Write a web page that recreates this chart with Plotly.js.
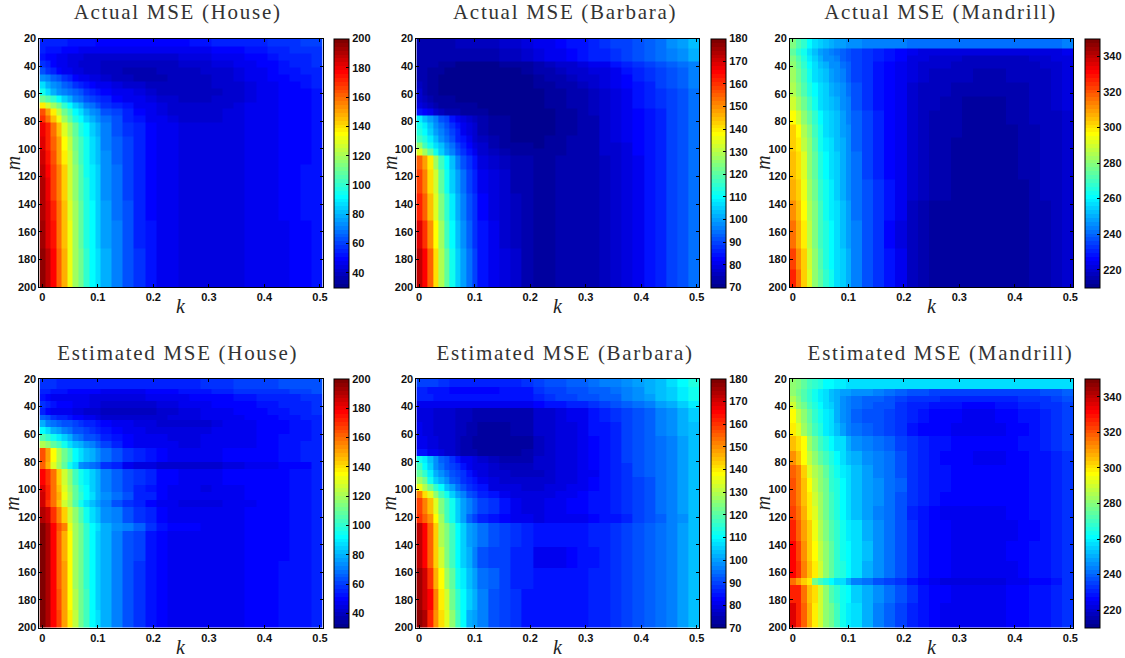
<!DOCTYPE html>
<html><head><meta charset="utf-8"><script src="https://cdn.plot.ly/plotly-3.0.1.min.js"></script>
<style>html,body{margin:0;padding:0;background:#fff}#c{width:1125px;height:658px}</style></head><body><div id="c"></div>
<script>
const kEdges=[-.005,.005,.015,.025,.035,.045,.055,.065,.075,.085,.095,.105,.125,.145,.165,.185,.205,.225,.245,.265,.285,.305,.325,.345,.365,.385,.405,.425,.445,.465,.485,.505];
const titles=["Actual MSE (House)","Actual MSE (Barbara)","Actual MSE (Mandrill)","Estimated MSE (House)","Estimated MSE (Barbara)","Estimated MSE (Mandrill)"];
const zRanges=[[30,200],[70,180],[210,350],[30,200],[70,180],[210,350]];
const cbTicks=[[40,60,80,100,120,140,160,180,200],[70,80,90,100,110,120,130,140,150,160,170,180],[220,240,260,280,300,320,340]];

const mActualHouse=[20,26,31,36,41,46,51,56,61,66,71,76,81,91,101,111,121,137,152,172,200];
const zActualHouse=[
[55,55,54,54,54,53,53,52,52,52,51,50,50,50,50,50,50,50,50,52,53,54,55,55,56,56,57,58,59,60,61],
[54,53,52,52,51,50,49,48,48,47,47,47,46,46,46,47,47,47,47,47,48,50,50,51,52,53,54,56,57,58,59],
[52,50,49,47,46,45,44,44,43,43,42,42,42,42,42,42,43,43,44,44,45,46,47,48,49,50,52,54,55,56,57],
[58,54,50,48,46,45,44,43,42,41,41,40,40,39,39,40,40,40,41,41,42,44,45,46,48,49,50,52,54,55,57],
[62,58,55,51,48,46,45,44,43,42,41,39,38,37,37,37,38,39,40,40,41,42,43,45,47,48,50,52,53,54,56],
[75,70,66,62,58,54,51,48,46,45,44,41,39,38,37,37,37,38,38,39,40,41,42,44,46,48,49,50,52,53,55],
[86,80,74,70,66,62,58,55,52,50,48,46,44,42,41,40,38,38,38,38,39,41,42,43,45,46,48,49,51,52,54],
[95,88,80,75,72,68,65,62,58,55,52,50,47,46,44,42,40,40,39,39,39,40,41,42,44,46,48,49,50,51,53],
[112,105,100,92,85,78,72,68,64,60,58,54,50,48,46,45,42,41,40,40,40,41,42,43,45,46,48,49,50,51,53],
[138,128,118,110,100,92,85,78,72,68,64,58,55,52,48,47,44,42,41,41,41,41,43,44,46,47,48,49,50,51,53],
[165,152,138,125,112,102,92,86,80,74,70,64,60,54,50,48,45,43,41,41,41,42,44,45,46,47,48,49,50,51,53],
[170,160,145,132,120,108,98,92,85,80,74,68,62,56,52,48,46,44,42,42,42,42,44,45,46,47,48,49,50,51,53],
[180,172,160,145,130,118,108,98,92,84,78,70,64,58,54,50,47,46,45,45,45,44,44,45,46,47,48,49,50,51,53],
[182,172,162,150,136,124,112,102,95,88,82,72,66,60,54,50,47,46,45,45,45,44,44,45,46,47,48,49,50,51,53],
[185,176,165,152,138,126,114,104,96,88,82,74,66,60,55,50,47,46,45,45,45,44,44,45,46,47,48,49,50,51,53],
[188,178,168,155,142,128,115,106,96,90,84,74,68,60,55,51,48,46,45,45,45,44,44,45,46,47,48,49,50,52,53],
[190,180,168,156,142,128,116,106,97,90,84,75,68,60,55,51,47,46,45,45,45,44,44,45,46,47,48,49,50,52,53],
[192,182,172,158,145,130,118,108,98,92,85,76,68,62,56,51,47,46,45,45,45,44,44,45,46,46,47,49,50,52,53],
[194,184,174,160,146,132,118,108,98,92,85,76,70,62,56,52,47,46,45,45,45,44,44,45,46,46,47,48,50,51,52],
[196,188,178,162,148,132,120,110,100,92,86,78,70,63,58,52,48,46,45,45,45,44,44,45,46,46,47,48,50,51,52]];

const mActualBarbara=[20,27,36.5,41,46,51,56,61,66,71,75.5,80.5,85,90,95,100,105,115,132,152,172,200];
const zActualBarbara=[
[75,75,75,75,75,75,75,76,76,76,76,76,76,77,77,79,81,82,83,84,85,87,88,89,90,92,93,95,98,100,103],
[75,75,75,75,75,75,75,75,75,75,75,75,75,76,76,77,80,81,82,83,84,86,87,88,89,91,93,95,97,99,102],
[74,74,74,74,73,72,72,71,71,71,71,71,71,72,72,73,75,76,77,78,79,81,82,84,86,88,90,92,93,95,97],
[74,74,73,72,72,71,71,71,71,71,71,71,71,71,71,72,74,75,76,77,78,79,80,82,84,87,88,90,92,94,97],
[75,74,73,72,71,71,71,71,71,71,71,71,71,71,71,71,73,74,75,76,77,78,79,81,83,86,88,90,92,94,96],
[76,74,73,72,71,71,71,71,71,71,71,71,71,71,71,71,72,73,74,75,76,77,79,81,83,85,87,89,91,93,96],
[77,75,73,72,71,71,71,71,71,71,71,71,71,71,71,71,71,72,73,74,75,76,78,80,82,84,86,88,90,92,95],
[78,76,74,73,72,72,72,71,71,71,71,71,71,71,71,71,71,72,73,74,75,76,78,80,82,84,86,88,90,92,95],
[80,78,76,74,73,73,73,72,72,72,72,71,71,71,71,71,71,72,73,74,75,76,78,79,81,84,86,88,90,92,95],
[85,83,81,78,76,75,74,74,73,73,72,72,71,71,71,71,71,71,72,73,74,76,78,79,81,83,85,87,90,92,95],
[108,103,100,96,92,90,85,82,80,78,76,74,73,72,71,71,71,71,72,73,74,75,77,79,81,83,85,87,90,92,95],
[112,108,103,98,95,92,88,84,81,79,77,74,73,72,71,71,71,71,72,73,74,75,77,79,81,83,85,87,90,92,95],
[113,110,105,100,97,93,90,86,82,80,78,75,73,72,71,71,71,71,72,73,74,75,77,79,81,83,85,87,89,91,95],
[118,113,108,103,98,95,91,87,84,81,78,76,74,72,71,71,71,72,73,74,74,75,77,79,81,83,85,87,89,91,95],
[125,118,112,107,103,98,95,90,86,83,80,77,75,73,72,72,71,72,73,74,74,75,77,78,80,83,85,87,89,91,95],
[135,128,120,112,106,100,97,92,88,85,82,78,76,74,73,73,72,72,73,74,74,75,77,78,80,83,85,87,89,91,95],
[155,148,140,128,118,110,103,97,92,88,85,80,78,76,75,74,73,73,74,74,74,75,76,78,80,82,84,86,89,91,95],
[158,152,142,132,120,112,106,100,95,90,87,82,79,77,75,74,73,73,74,74,74,75,76,78,80,82,84,86,89,91,95],
[162,155,145,135,124,115,108,102,97,92,88,83,80,78,76,74,73,73,74,74,74,75,76,78,80,82,84,86,89,91,95],
[168,160,150,138,128,118,110,104,98,93,88,84,81,78,76,74,73,73,74,74,74,75,76,78,80,82,84,86,89,91,95],
[173,166,155,142,130,120,112,105,100,95,90,85,81,79,77,75,73,73,74,74,74,75,76,78,80,82,84,86,89,91,95]];

const mActualMandrill=[20,27,32,37,42,52,62,72,82,92,102,122,137,152,172,187,200];
const zActualMandrill=[
[278,272,268,262,258,255,253,251,249,248,247,245,244,243,243,243,242,242,241,241,241,241,241,241,241,241,241,241,242,242,243],
[275,268,264,258,252,248,245,243,242,240,238,235,233,231,229,227,224,223,222,222,222,221,221,221,221,221,221,222,222,223,224],
[278,272,266,260,254,250,247,245,243,240,238,236,233,230,228,226,222,221,220,220,219,218,218,218,218,218,218,219,220,221,223],
[281,274,268,262,256,252,250,247,245,242,240,236,232,229,227,225,221,220,219,219,218,218,217,217,217,217,217,218,219,220,222],
[283,276,270,264,258,254,252,249,246,244,240,236,233,229,227,225,221,219,218,218,217,217,216,216,216,217,217,217,218,219,221],
[285,278,272,266,261,256,254,251,248,245,242,237,233,229,226,224,220,218,217,217,216,215,215,215,215,216,216,217,218,219,221],
[290,284,276,270,264,258,255,252,250,247,243,238,234,229,226,224,220,218,217,216,215,214,214,214,214,215,216,217,218,219,221],
[296,290,280,274,268,261,257,254,252,248,244,240,235,230,226,224,220,218,216,216,215,214,214,214,214,215,216,217,217,218,220],
[302,297,286,278,270,264,258,255,252,248,245,240,236,231,227,224,220,218,216,216,215,214,214,214,214,214,215,216,217,218,220],
[304,298,288,280,272,264,260,256,252,250,246,240,236,230,227,224,219,217,216,215,214,213,213,213,213,214,215,216,217,218,220],
[306,300,292,282,274,266,261,258,254,250,246,241,236,231,227,224,219,217,215,215,214,213,213,213,213,214,215,216,217,218,220],
[308,302,294,284,276,268,263,259,255,251,247,241,237,232,228,224,219,217,215,215,214,213,213,213,213,213,214,216,217,218,220],
[312,306,296,286,278,270,264,260,256,252,248,242,238,232,228,224,218,216,214,214,213,213,213,213,213,213,214,215,216,217,219],
[316,308,298,288,278,270,265,261,257,253,249,243,238,232,227,223,218,216,214,214,213,213,213,213,213,213,214,215,216,217,219],
[322,312,302,290,280,272,266,262,258,254,250,243,238,232,228,224,218,216,214,214,213,213,213,213,213,213,214,215,216,217,219],
[326,315,304,292,282,274,268,263,258,254,250,244,238,232,228,224,218,216,214,214,213,213,213,213,213,213,214,215,216,217,219]];

const mEstHouse=[20,27,31,36,41,46,50,55,60,65,70,80,85,97,102,108,113,124,130,152,172,187,200];
const zEstHouse=[
[57,57,57,56,56,56,55,55,55,55,55,55,54,54,54,54,55,55,56,56,57,58,59,60,60,61,61,62,62,63,63],
[55,55,53,52,52,51,50,50,49,49,49,48,48,48,48,49,50,51,52,53,53,54,55,57,57,58,58,59,60,61,62],
[52,50,48,47,47,47,46,46,46,45,45,45,45,45,45,46,47,47,48,49,49,50,51,52,53,54,55,56,56,57,58],
[58,55,53,51,50,49,47,46,46,45,44,43,43,42,42,42,44,45,46,47,48,49,49,50,51,52,53,54,55,56,58],
[54,50,48,48,47,46,45,44,42,42,41,40,40,39,39,40,41,43,44,45,46,47,48,49,50,51,52,53,54,55,57],
[66,62,59,56,54,52,51,49,48,46,45,43,42,42,42,42,42,44,45,45,46,46,47,48,49,50,51,52,53,54,56],
[78,72,68,66,64,62,60,58,55,54,52,50,47,46,45,44,42,42,42,43,43,44,46,47,48,49,50,51,52,53,55],
[92,88,80,76,72,68,64,62,60,58,54,52,50,48,46,45,44,44,44,45,45,46,47,47,48,49,50,51,52,53,55],
[105,100,95,90,84,78,72,68,64,62,60,55,52,50,48,47,46,45,45,45,46,46,47,47,48,49,50,52,52,53,55],
[122,116,108,102,96,88,82,78,74,70,66,60,55,50,48,47,46,46,45,45,46,46,47,47,48,50,50,52,53,54,55],
[165,150,135,122,112,102,92,86,82,78,74,68,62,58,54,52,50,48,46,47,48,48,50,50,50,50,51,52,53,54,55],
[162,148,130,118,108,96,88,74,70,68,66,58,55,48,45,44,43,42,41,41,42,42,44,45,46,47,48,49,50,51,54],
[178,170,158,142,128,116,104,96,90,84,78,72,66,60,58,54,51,49,48,48,48,48,49,49,50,50,50,51,52,53,55],
[182,172,160,145,130,120,108,98,92,84,78,72,66,60,56,52,49,47,46,46,45,47,47,48,49,49,50,50,52,53,55],
[185,172,160,148,132,122,108,100,92,86,80,74,68,62,56,54,50,48,47,47,47,47,48,48,49,49,50,51,52,53,55],
[185,170,160,145,128,118,105,96,88,82,76,70,62,58,54,50,47,46,45,44,44,45,46,47,48,49,50,51,52,53,55],
[192,185,170,156,142,128,115,105,95,88,82,75,70,64,58,54,50,48,47,47,47,47,48,48,49,49,50,51,52,53,55],
[198,192,178,165,155,132,120,112,100,92,86,80,74,70,66,58,52,50,49,49,48,48,48,48,49,49,50,51,52,53,55],
[198,190,178,162,148,134,120,110,100,92,84,78,70,64,60,52,49,48,47,47,47,47,47,48,49,50,50,51,52,53,55],
[198,190,178,162,150,136,120,110,100,92,84,78,70,64,58,52,49,48,47,47,47,47,47,48,49,50,51,52,52,53,55],
[198,190,178,164,150,136,122,112,102,92,84,78,70,64,58,52,49,48,47,47,47,47,47,48,49,50,51,52,52,53,55],
[200,192,178,166,152,138,124,112,102,92,86,78,70,64,58,52,49,48,47,47,47,47,47,48,49,50,51,52,52,53,55]];

const mEstBarbara=[20,26,31,36,41,51,61,71,76,81,86,91,96,101,106,118,124,142,157,172,187,200];
const zEstBarbara=[
[90,90,89,89,88,88,87,87,87,87,87,87,87,87,87,88,90,91,92,93,94,95,96,97,99,100,102,104,107,110,113],
[86,86,85,85,84,84,83,83,83,83,83,83,83,84,84,85,88,89,90,91,92,93,94,95,97,99,101,103,106,109,112],
[86,86,86,85,85,85,85,85,85,85,85,84,84,84,84,85,87,88,89,90,91,92,93,94,96,98,100,103,106,109,112],
[82,82,82,81,81,81,81,81,81,81,81,81,81,81,81,81,83,84,85,86,87,88,89,91,93,95,97,100,102,105,108],
[80,80,79,78,78,77,77,76,76,76,75,75,75,74,75,75,77,78,80,81,82,84,86,88,90,92,94,96,98,101,105],
[81,80,79,78,77,77,77,76,76,75,75,73,73,73,74,74,77,78,79,80,82,84,85,87,90,92,94,96,98,101,104],
[82,81,80,79,78,77,77,76,75,74,73,72,72,72,73,73,76,77,79,80,81,83,85,87,89,91,93,95,97,100,104],
[85,84,82,81,80,78,78,76,75,74,74,73,72,72,73,74,76,77,79,80,81,83,85,87,89,91,93,95,97,100,103],
[112,108,103,98,94,92,88,85,82,82,80,78,76,75,75,75,77,78,79,80,81,83,85,87,89,91,93,95,97,100,103],
[118,110,105,98,95,92,90,88,84,82,80,80,78,76,76,76,77,78,79,80,81,83,85,86,88,91,93,95,97,100,103],
[120,115,108,102,98,95,92,90,88,85,82,80,78,77,76,76,76,77,79,80,81,82,84,86,88,91,93,95,97,100,103],
[128,122,112,106,102,98,94,92,88,86,84,81,79,78,77,77,77,78,79,80,81,83,85,86,88,90,92,95,97,100,103],
[136,130,122,115,110,104,100,95,92,88,87,84,80,79,79,78,78,79,80,81,82,83,85,86,88,90,92,95,97,100,103],
[152,142,135,125,118,112,105,100,96,92,90,86,84,82,80,80,80,80,81,82,83,84,85,86,88,90,92,95,97,100,103],
[158,152,145,135,124,118,112,106,100,96,94,90,88,84,82,80,80,81,82,83,83,84,85,86,88,90,92,95,97,100,103],
[160,155,150,138,128,118,112,106,100,94,90,86,84,83,82,81,80,81,81,82,82,83,84,85,87,89,91,94,96,99,103],
[172,165,155,143,130,124,118,110,105,100,98,95,92,90,88,86,85,85,85,85,85,86,87,88,90,91,93,95,97,100,104],
[172,165,155,143,132,124,118,110,106,102,96,92,90,90,87,86,81,81,82,83,84,85,86,88,90,91,93,95,97,100,104],
[176,170,160,147,138,128,120,112,108,104,100,95,93,90,87,86,84,84,84,85,85,86,87,88,90,91,93,95,97,100,104],
[176,170,165,152,140,132,122,115,110,105,102,96,92,90,88,85,84,84,84,85,85,86,87,88,90,91,93,95,97,100,104],
[178,174,162,150,142,135,125,118,110,102,100,96,92,90,88,85,84,84,84,85,85,86,87,88,90,91,93,95,97,100,104]];

const mEstMandrill=[20,27,32,37,42,52,61,72,82,92,102,112,122,137,152,164,169,182,200];
const zEstMandrill=[
[280,278,274,270,268,265,262,261,260,259,258,258,258,258,257,257,256,256,256,256,256,256,256,256,256,256,256,256,257,257,258],
[282,276,272,268,264,260,256,253,251,249,248,246,245,244,242,240,237,237,236,236,236,235,235,235,235,235,235,236,237,238,239],
[285,278,273,268,264,260,256,253,250,246,243,241,240,239,238,236,234,233,232,231,231,230,230,230,230,231,232,233,234,235,238],
[290,282,276,270,266,262,258,254,250,247,244,241,240,238,237,234,231,230,229,228,228,227,227,227,228,229,230,231,232,233,236],
[296,288,280,274,268,264,260,256,250,247,243,239,238,237,235,233,230,228,227,226,226,225,225,225,226,227,228,229,230,232,235],
[298,292,284,276,270,265,260,256,252,248,244,241,239,238,235,233,229,227,226,226,225,225,225,225,225,226,227,229,230,232,235],
[306,300,296,284,276,270,266,262,258,256,250,246,244,241,240,236,232,230,229,228,227,226,226,226,226,227,228,229,230,232,235],
[312,306,296,288,282,274,270,265,262,258,253,250,247,243,241,238,233,230,228,227,226,226,225,225,225,226,227,228,229,231,234],
[318,314,302,292,286,280,274,268,264,260,256,252,248,244,242,238,233,231,229,228,227,226,226,227,227,227,227,228,229,231,234],
[320,314,306,296,288,282,276,268,266,262,257,253,249,245,242,239,233,231,229,228,227,227,226,226,226,227,227,228,229,231,234],
[320,314,306,298,290,284,276,270,266,262,257,252,248,245,242,238,232,230,228,227,227,226,226,226,226,226,227,228,229,231,234],
[322,316,308,298,292,284,276,270,266,262,258,252,248,244,241,237,231,229,226,225,225,224,224,224,225,226,227,228,229,231,234],
[326,318,310,302,294,286,278,272,268,264,260,256,250,246,242,238,232,229,227,226,225,224,224,224,224,225,226,227,228,230,233],
[332,322,312,304,296,288,280,274,268,264,262,256,252,246,242,238,232,229,227,226,225,225,224,224,225,226,227,228,229,231,234],
[332,324,314,306,298,290,282,274,268,266,262,256,250,246,242,238,232,229,227,226,225,225,225,225,225,225,227,228,229,231,234],
[316,310,304,298,276,270,266,262,258,256,250,244,242,238,236,234,228,226,224,223,222,222,222,222,223,224,225,226,227,229,232],
[328,326,316,306,300,290,280,272,268,264,262,254,250,246,242,238,232,229,227,226,225,224,224,224,225,226,227,228,229,231,234],
[335,328,318,308,298,290,282,276,270,264,260,256,250,244,240,236,230,228,226,225,225,224,224,224,225,226,227,228,229,231,234]];

const W=1125,H=658;
const colLeft=[39.5,416.7,790.7],colRight=[323,700,1074],cbLeft=[333.5,711,1085];
const rowTop=[38.5,379],rowBot=[287,627.5];
const titleShift=[-4,7,8.5];
const mAll=[mActualHouse,mActualBarbara,mActualMandrill,mEstHouse,mEstBarbara,mEstMandrill];
const zAll=[zActualHouse,zActualBarbara,zActualMandrill,zEstHouse,zEstBarbara,zEstMandrill];

function jet64(){
  const f=t=>Math.max(0,Math.min(1,t));const s=[];
  for(let i=0;i<64;i++){
    const g=(i+1)/64;
    const r=f(Math.min(4*g-1.5,-4*g+4.5)),gr=f(Math.min(4*g-0.5,-4*g+3.5)),b=f(Math.min(4*g+0.5,-4*g+2.5));
    const c=`rgb(${Math.round(r*255)},${Math.round(gr*255)},${Math.round(b*255)})`;
    s.push([i/64,c]);s.push([(i+1)/64,c]);
  }
  return s;
}
const jet=jet64();
const tickFont={family:'"Liberation Sans",Arial,sans-serif',size:11,color:'#111',weight:700};
const serif='"Liberation Serif","Times New Roman",serif';
const traces=[],annotations=[],layout={width:W,height:H,margin:{l:0,r:0,t:0,b:0},paper_bgcolor:'#fff',plot_bgcolor:'#fff',showlegend:false,annotations};
const labelFont={family:serif,size:20,color:'#222'};

for(let i=0;i<6;i++){
  const c=i%3,r=Math.floor(i/3),n=i+1,sfx=n===1?'':n;
  traces.push({type:'heatmap',x:kEdges,y:mAll[i],z:zAll[i],xaxis:'x'+sfx,yaxis:'y'+sfx,zmin:zRanges[i][0],zmax:zRanges[i][1],colorscale:jet,zsmooth:false,
    hoverinfo:'skip',
    colorbar:{x:cbLeft[c]/W,xanchor:'left',xpad:0,ypad:0,y:1-rowTop[r]/H,yanchor:'top',lenmode:'pixels',len:rowBot[r]-rowTop[r],thicknessmode:'pixels',thickness:15,
      tickmode:'array',tickvals:cbTicks[c],ticktext:cbTicks[c].map(String),ticks:'inside',ticklen:3,tickcolor:'#000',tickwidth:1,tickfont:tickFont,outlinecolor:'#000',outlinewidth:1,borderwidth:0}});
  layout['xaxis'+sfx]={domain:[colLeft[c]/W,colRight[c]/W],range:[-0.005,0.505],anchor:'y'+sfx,tickmode:'array',tickvals:[0,.1,.2,.3,.4,.5],ticktext:['0','0.1','0.2','0.3','0.4','0.5'],
    ticks:'inside',ticklen:3,tickcolor:'#000',showline:true,linecolor:'#000',linewidth:1,mirror:'allticks',showgrid:false,zeroline:false,tickfont:tickFont};
  layout['yaxis'+sfx]={domain:[1-rowBot[r]/H,1-rowTop[r]/H],range:[200,20],anchor:'x'+sfx,tickmode:'array',tickvals:[20,40,60,80,100,120,140,160,180,200],
    ticks:'inside',ticklen:3,tickcolor:'#000',showline:true,linecolor:'#000',linewidth:1,mirror:'allticks',showgrid:false,zeroline:false,tickfont:tickFont};
  const cx=(colLeft[c]+colRight[c])/2;
  annotations.push({text:'<i>k</i>',xref:'paper',yref:'paper',x:cx/W,y:1-(rowBot[r]+19)/H,xanchor:'center',yanchor:'middle',showarrow:false,font:labelFont});
  annotations.push({text:'<i>m</i>',xref:'paper',yref:'paper',x:(colLeft[c]-27)/W,y:1-(rowTop[r]+rowBot[r])/2/H,xanchor:'center',yanchor:'middle',textangle:-90,showarrow:false,font:labelFont});
  annotations.push({text:titles[i],xref:'paper',yref:'paper',x:(cx+titleShift[c])/W,y:1-(rowTop[r]-12)/H,xanchor:'center',yanchor:'bottom',showarrow:false,font:{family:serif,size:21,color:'#333'}});
}
Plotly.newPlot('c',traces,layout,{displayModeBar:false,staticPlot:true}).then(()=>{
  document.querySelectorAll('.annotation-text').forEach(t=>{
    if(/MSE/.test(t.textContent)) t.style.letterSpacing='1.7px';
  });
});
</script></body></html>
